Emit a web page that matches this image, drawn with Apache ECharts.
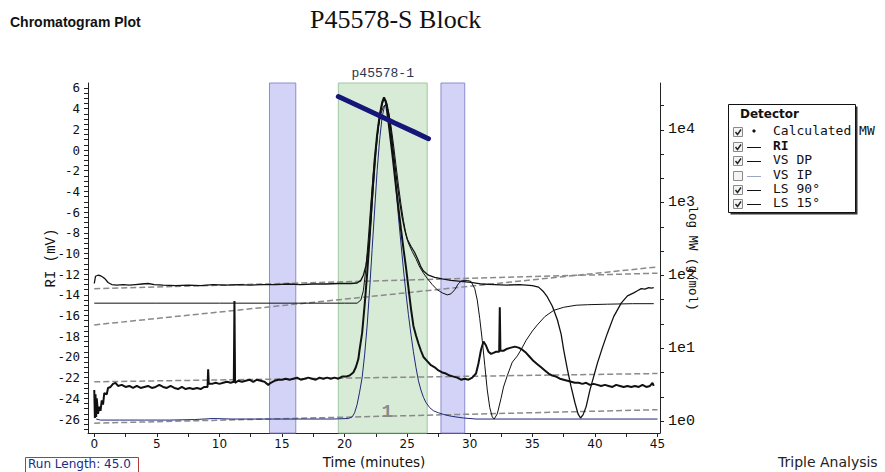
<!DOCTYPE html>
<html><head><meta charset="utf-8">
<script src="https://cdn.jsdelivr.net/npm/echarts@6/dist/echarts.min.js"></script>
<style>html,body{margin:0;padding:0;background:#fff}#c{width:885px;height:472px}</style>
</head><body><div id="c"></div>
<script>
// ---------- DATA ----------
const xLabelVals = [0,5,10,15,20,25,30,35,40,45];
const yLeftLabelVals = [-26,-24,-22,-20,-18,-16,-14,-12,-10,-8,-6,-4,-2,0,2,4,6];
const yRightLabelVals = [1,10,100,1000,10000];

const blueBands = [[14.0,16.1],[27.7,29.6]];
const peakBand = [19.5,26.6];
const peakBandName = 'p45578-1';
const peakMarker = [23.4,-25.3];
const peakMarkerText = '1';

const legendNames = ['Calculated MW','RI','VS DP','VS IP','LS 90°','LS 15°'];
const legendChecked = [true,true,true,false,true,true];

// Calculated MW (g/mol) vs time
const calcMW = [[19.5,28800],[21,21900],[22.5,16600],[24,12500],[25.5,9500],[26.7,7600]];

// RI (blue trace)
const riTrace = [[0.15,-26.0],[0.5,-26.1],[2,-26.1],[4,-26.1],[6,-26.1],[8,-26.05],[9.5,-25.95],[11,-26.0],[13,-26.0],[15,-26.0],[17,-26.0],[19,-26.0],[20.3,-25.95],[20.6,-25.8],[20.8,-25.4],[21.0,-24.6],[21.2,-23.4],[21.4,-22.0],[21.6,-19.8],[21.8,-17.0],[22.0,-13.5],[22.2,-9.6],[22.4,-5.8],[22.6,-2.0],[22.8,1.0],[23.0,3.2],[23.2,4.3],[23.35,4.4],[23.5,3.6],[23.7,1.8],[23.9,-0.8],[24.1,-3.6],[24.3,-6.4],[24.5,-9.0],[24.7,-11.5],[24.9,-13.8],[25.1,-15.9],[25.3,-17.8],[25.5,-19.5],[25.7,-21.0],[25.9,-22.3],[26.1,-23.2],[26.3,-23.9],[26.5,-24.4],[26.8,-24.9],[27.1,-25.2],[27.5,-25.4],[27.9,-25.55],[28.4,-25.7],[28.9,-25.8],[29.5,-25.9],[30.5,-26.0],[35,-26.0],[40,-26.0],[45,-26.0]];

// VS DP
const vsDP = [[0,-14.8],[5,-14.8],[10,-14.8],[15,-14.8],[20,-14.8],[21.0,-14.8],[21.3,-14.5],[21.5,-13.6],[21.7,-11.5],[21.9,-8.5],[22.1,-5.2],[22.3,-2.2],[22.5,0.3],[22.7,2.2],[22.9,3.5],[23.1,4.2],[23.3,4.4],[23.5,3.8],[23.7,2.4],[23.9,0.6],[24.1,-1.4],[24.3,-3.4],[24.5,-5.2],[24.7,-6.8],[24.9,-8.1],[25.1,-9.0],[25.4,-9.8],[25.7,-10.5],[26.0,-11.3],[26.3,-11.9],[26.6,-12.4],[27.0,-13.0],[27.4,-13.5],[27.8,-13.8],[28.2,-14.0],[28.5,-13.9],[28.8,-13.5],[29.1,-12.9],[29.4,-12.6],[29.8,-12.6],[30.1,-12.7],[30.4,-13.4],[30.6,-14.5],[30.8,-16.3],[31.0,-18.4],[31.2,-20.8],[31.4,-23.2],[31.6,-24.9],[31.8,-25.8],[31.95,-26.0],[32.2,-25.5],[32.5,-24.0],[32.7,-22.9],[33.0,-21.8],[33.4,-20.5],[33.8,-19.9],[34.1,-19.3],[34.5,-18.4],[35.0,-17.5],[35.4,-16.9],[36.0,-16.1],[36.7,-15.5],[37.5,-15.2],[38.5,-15.0],[39.4,-14.95],[41,-14.9],[43,-14.85],[44.7,-14.85]];

// LS 90° (bold noisy trace)
const ls90 = [[0.0,-23.2],[0.05,-25.9],[0.1,-23.6],[0.15,-25.8],[0.2,-24.0],[0.3,-25.5],[0.4,-24.8],[0.5,-25.2],[0.6,-24.2],[0.7,-24.6],[0.8,-23.5],[1.0,-23.6],[1.1,-23.0],[1.3,-22.9],[1.5,-22.6],[1.7,-22.5],[1.9,-22.8],[2.2,-22.7],[2.5,-22.9],[2.8,-22.8],[3.1,-23.0],[3.4,-22.8],[3.7,-23.0],[4.0,-22.9],[4.3,-22.8],[4.6,-23.0],[4.9,-22.9],[5.2,-22.7],[5.5,-22.9],[5.8,-23.0],[6.1,-22.8],[6.4,-23.0],[6.7,-23.1],[7.0,-22.9],[7.3,-23.1],[7.6,-23.0],[7.9,-23.1],[8.2,-23.0],[8.5,-23.1],[8.8,-22.9],[9.05,-22.9],[9.1,-21.2],[9.15,-22.6],[9.4,-22.6],[9.7,-22.5],[10.0,-22.6],[10.3,-22.5],[10.6,-22.4],[10.9,-22.5],[11.15,-22.4],[11.2,-14.6],[11.25,-22.5],[11.5,-22.3],[11.8,-22.4],[12.1,-22.3],[12.4,-22.2],[12.7,-22.4],[13.0,-22.2],[13.3,-22.3],[13.6,-22.4],[13.9,-22.7],[14.1,-22.5],[14.4,-22.3],[14.7,-22.2],[15.0,-22.2],[15.3,-22.1],[15.6,-22.2],[15.9,-22.1],[16.2,-22.0],[16.5,-22.2],[16.8,-22.1],[17.1,-22.0],[17.4,-22.1],[17.7,-22.2],[18.0,-22.0],[18.3,-22.1],[18.6,-22.0],[18.9,-22.1],[19.2,-22.0],[19.5,-22.1],[19.8,-21.9],[20.1,-21.9],[20.4,-21.8],[20.7,-21.5],[20.9,-21.0],[21.1,-20.2],[21.2,-19.3],[21.4,-17.7],[21.6,-15.0],[21.8,-12.0],[22.0,-8.5],[22.2,-4.5],[22.4,-1.0],[22.6,1.5],[22.8,3.3],[23.0,4.6],[23.15,5.1],[23.3,4.6],[23.5,2.8],[23.7,0.8],[23.9,-1.3],[24.1,-3.5],[24.3,-5.6],[24.5,-7.6],[24.7,-9.5],[24.9,-11.3],[25.1,-13.3],[25.3,-15.3],[25.5,-17.0],[25.7,-17.9],[25.9,-18.7],[26.1,-19.4],[26.3,-20.0],[26.6,-20.4],[26.9,-20.8],[27.2,-21.0],[27.5,-21.3],[27.8,-21.5],[28.1,-21.6],[28.4,-21.8],[28.7,-21.9],[29.0,-22.0],[29.3,-22.2],[29.6,-22.1],[29.9,-22.2],[30.2,-22.0],[30.5,-21.6],[30.7,-20.6],[30.9,-19.3],[31.1,-18.5],[31.3,-18.9],[31.5,-19.5],[31.7,-19.7],[31.9,-19.6],[32.1,-19.5],[32.35,-19.5],[32.4,-15.2],[32.45,-19.4],[32.7,-19.4],[33.0,-19.2],[33.3,-19.1],[33.6,-19.0],[33.9,-19.1],[34.2,-19.3],[34.5,-19.6],[34.8,-20.0],[35.1,-20.4],[35.4,-20.7],[35.7,-21.0],[36.0,-21.3],[36.3,-21.6],[36.6,-21.8],[36.9,-21.9],[37.2,-22.1],[37.5,-22.2],[37.8,-22.3],[38.1,-22.4],[38.4,-22.5],[38.7,-22.5],[39.0,-22.6],[39.3,-22.5],[39.6,-22.7],[39.9,-22.6],[40.2,-22.7],[40.5,-22.8],[40.8,-22.7],[41.1,-22.8],[41.4,-22.9],[41.7,-22.7],[42.0,-22.8],[42.3,-22.9],[42.6,-22.8],[42.9,-22.9],[43.2,-22.8],[43.5,-22.9],[43.8,-22.7],[44.1,-22.9],[44.4,-22.8],[44.6,-22.5],[44.7,-22.8]];

// LS 15°
const ls15 = [[0.0,-12.9],[0.1,-12.2],[0.3,-12.1],[0.5,-12.15],[0.7,-12.3],[0.9,-12.5],[1.1,-12.8],[1.4,-13.0],[1.8,-13.05],[2.3,-13.0],[2.8,-13.05],[3.3,-13.0],[3.8,-12.95],[4.3,-12.9],[4.8,-13.0],[5.5,-13.05],[6.5,-13.1],[7.5,-13.05],[8.5,-13.1],[9.5,-13.0],[10.5,-13.05],[11.5,-13.0],[12.5,-13.05],[13.5,-13.0],[14.5,-13.0],[15.5,-12.95],[16.5,-13.0],[17.5,-12.95],[18.5,-12.95],[19.5,-12.9],[20.5,-12.9],[21.0,-12.85],[21.3,-12.6],[21.5,-12.1],[21.7,-11.2],[21.9,-9.6],[22.1,-6.8],[22.3,-3.4],[22.5,-0.2],[22.7,2.4],[22.9,4.0],[23.1,4.8],[23.25,4.9],[23.4,4.4],[23.6,2.9],[23.8,0.9],[24.0,-1.2],[24.2,-3.2],[24.4,-5.0],[24.6,-6.5],[24.8,-7.7],[25.0,-8.6],[25.3,-9.3],[25.6,-9.9],[25.9,-10.7],[26.1,-11.3],[26.3,-11.7],[26.7,-12.1],[27.2,-12.3],[27.8,-12.45],[28.5,-12.6],[29.3,-12.7],[30.1,-12.8],[31,-12.95],[32,-13.0],[33,-13.05],[34,-13.0],[35,-13.1],[35.5,-13.25],[35.9,-13.7],[36.2,-14.2],[36.6,-15.1],[37.0,-16.4],[37.3,-17.8],[37.5,-19.3],[37.8,-21.2],[38.1,-22.9],[38.4,-24.4],[38.65,-25.5],[38.85,-25.9],[39.05,-25.6],[39.3,-24.8],[39.6,-23.2],[39.9,-21.9],[40.2,-20.6],[40.6,-19.1],[41.0,-17.7],[41.5,-16.1],[42.1,-14.8],[42.6,-14.1],[43.1,-13.8],[43.4,-13.6],[43.7,-13.4],[44.0,-13.45],[44.3,-13.3],[44.5,-13.35],[44.7,-13.3]];

// Dashed baselines
const baseLS15 = [[0,-13.4],[45,-11.9]];
const baseVSDP = [[0,-16.9],[45,-11.3]];
const baseLS90 = [[0,-22.4],[45,-21.6]];
const baseRI = [[0,-26.4],[45,-25.1]];

// ---------- CHART ----------
const MONO = 'Liberation Mono';
const SMONO = 'DejaVu Sans Mono';
const SANS = 'DejaVu Sans';

const xTickVals = []; for (let v = 0; v <= 45.001; v += 2.5) xTickVals.push(+v.toFixed(2));
const yLeftTickVals = []; for (let v = -27; v <= 6.001; v += 0.5) yLeftTickVals.push(+v.toFixed(2));
const yRightTickVals = []; for (let k = -1; k <= 4; k++) { [0, 1/3, 2/3].forEach(f => { const v = Math.pow(10, k + f); if (v >= 0.684 && v <= 44260) yRightTickVals.push(v); }); }

const chart = echarts.init(document.getElementById('c'), null, {renderer: 'svg'});

const bandData = blueBands.map(b => [
  {xAxis: b[0], itemStyle: {color: '#d3d3f7', borderColor: '#8c8cd2', borderWidth: 1}},
  {xAxis: b[1]}
]);
bandData.push([
  {xAxis: peakBand[0], name: peakBandName,
   itemStyle: {color: '#d7ebd7', borderColor: '#9fc79f', borderWidth: 1},
   label: {show: true, position: 'top', distance: 3, formatter: peakBandName,
           fontFamily: MONO, fontSize: 13, color: '#2c3550'}},
  {xAxis: peakBand[1]}
]);

function lineSeries(name, data, color, width, z, extra) {
  return Object.assign({
    name, type: 'line', data, showSymbol: false, symbol: 'none', z,
    lineStyle: {color, width}, itemStyle: {color}
  }, extra || {});
}
const dashStyle = (d) => lineSeries('baseline', d, '#8a8a8a', 1.5, 3, {lineStyle: {color: '#8a8a8a', width: 1.5, type: [6, 3]}});

const legendRows = [132, 147, 161, 176, 190, 204];
const graphics = [
  {type: 'text', left: 10, top: 15, style: {text: 'Chromatogram Plot', font: 'bold 14px "Liberation Sans"', fill: '#111'}},
  {type: 'text', left: 310, top: 6, style: {text: 'P45578-S Block', font: '26px "Liberation Serif"', fill: '#111'}},
  {type: 'rect', shape: {x: 25.5, y: 457.5, width: 113, height: 16}, style: {fill: '#fff', stroke: '#b03a3a', lineWidth: 1}},
  {type: 'text', left: 28, top: 458, style: {text: 'Run Length: 45.0', font: '12px "DejaVu Sans"', fill: '#1a2a8a'}},
  {type: 'text', left: 778, top: 455, style: {text: 'Triple Analysis', font: '14px "DejaVu Sans"', fill: '#222'}},
  {type: 'rect', shape: {x: 730.5, y: 106.5, width: 127, height: 108}, style: {fill: '#333', stroke: 'none'}},
  {type: 'rect', shape: {x: 728.5, y: 104.5, width: 127, height: 108}, style: {fill: '#fff', stroke: '#111', lineWidth: 1}},
  {type: 'text', left: 740, top: 108, style: {text: 'Detector', font: 'bold 12px "DejaVu Sans"', fill: '#111'}}
];
legendNames.forEach((nm, i) => {
  const y = legendRows[i];
  graphics.push({type: 'rect', shape: {x: 733.5, y: y - 4.5, width: 9, height: 9}, style: {fill: '#f4f4f4', stroke: '#8a8a8a', lineWidth: 1}});
  if (legendChecked[i]) {
    graphics.push({type: 'polyline', shape: {points: [[735.5, y], [737.5, y + 2.5], [741, y - 2.5]]}, style: {stroke: '#222', lineWidth: 1.4, fill: 'none'}});
  }
  if (i === 0) {
    graphics.push({type: 'circle', shape: {cx: 754, cy: y - 1, r: 1.6}, style: {fill: '#111'}});
  } else {
    graphics.push({type: 'line', shape: {x1: 747, y1: y + 0.5, x2: 761, y2: y + 0.5}, style: {stroke: legendChecked[i] ? '#111' : '#9aa6c2', lineWidth: 1}});
  }
  graphics.push({type: 'text', left: 773, top: y - 8, style: {text: nm, font: (i === 1 ? 'bold ' : '') + '13px "DejaVu Sans Mono"', fill: '#111'}});
});

const option = {
  animation: false,
  backgroundColor: '#fff',
  grid: {left: 88, right: 225, top: 83, bottom: 39, outerBoundsMode: 'none', containLabel: false},
  xAxis: {
    type: 'value', min: -0.5, max: 45.2,
    axisLine: {show: true, onZero: false, lineStyle: {color: '#222', width: 1}},
    axisTick: {show: true, length: 4, customValues: xTickVals, lineStyle: {color: '#222'}},
    axisLabel: {customValues: xLabelVals, margin: 5, color: '#111', fontFamily: SANS, fontSize: 12},
    splitLine: {show: false},
    name: 'Time (minutes)', nameLocation: 'middle', nameGap: 22, nameMoveOverlap: false,
    nameTextStyle: {fontFamily: SANS, fontSize: 13.5, color: '#111'}
  },
  yAxis: [
    {
      type: 'value', min: -27.35, max: 6.48, position: 'left',
      axisLine: {show: true, onZero: false, lineStyle: {color: '#222', width: 1}},
      axisTick: {show: true, length: 4, customValues: yLeftTickVals, lineStyle: {color: '#222'}},
      axisLabel: {customValues: yLeftLabelVals, margin: 8, color: '#111', fontFamily: SMONO, fontSize: 12.5},
      splitLine: {show: false},
      name: 'RI (mV)', nameLocation: 'middle', nameGap: 30, nameMoveOverlap: false,
      nameTextStyle: {fontFamily: MONO, fontSize: 14, color: '#111'}
    },
    {
      type: 'log', logBase: 10, min: 0.684, max: 44260, position: 'right',
      axisLine: {show: true, onZero: false, lineStyle: {color: '#222', width: 1}},
      axisTick: {show: true, length: 4, customValues: yRightTickVals, lineStyle: {color: '#222'}},
      axisLabel: {customValues: yRightLabelVals, margin: 8, color: '#111', fontFamily: MONO, fontSize: 15,
                  formatter: v => '1e' + Math.round(Math.log10(v))},
      splitLine: {show: false},
      name: 'log MW (g/mol)', nameLocation: 'middle', nameGap: 25, nameRotate: -90, nameMoveOverlap: false,
      nameTextStyle: {fontFamily: MONO, fontSize: 12.5, color: '#111'}
    }
  ],
  graphic: graphics,
  series: [
    {type: 'line', name: 'bands', data: [], z: 1, markArea: {silent: true, data: bandData}},
    dashStyle(baseLS15), dashStyle(baseVSDP), dashStyle(baseLS90), dashStyle(baseRI),
    lineSeries('RI', riTrace, '#1e2878', 1, 4, {
      markPoint: {symbol: 'circle', symbolSize: 0, data: [{coord: peakMarker}],
        label: {show: true, formatter: peakMarkerText, position: 'inside', fontFamily: MONO, fontWeight: 'bold', fontSize: 18, color: '#8a8a8a'}}
    }),
    lineSeries('VS DP', vsDP, '#111', 1, 5),
    lineSeries('LS 15°', ls15, '#111', 1.3, 6),
    lineSeries('LS 90°', ls90, '#111', 2, 7),
    lineSeries('Calculated MW', calcMW, '#16167a', 5, 8, {yAxisIndex: 1, lineStyle: {color: '#16167a', width: 5, cap: 'round'}})
  ]
};
chart.setOption(option);
</script></body></html>
